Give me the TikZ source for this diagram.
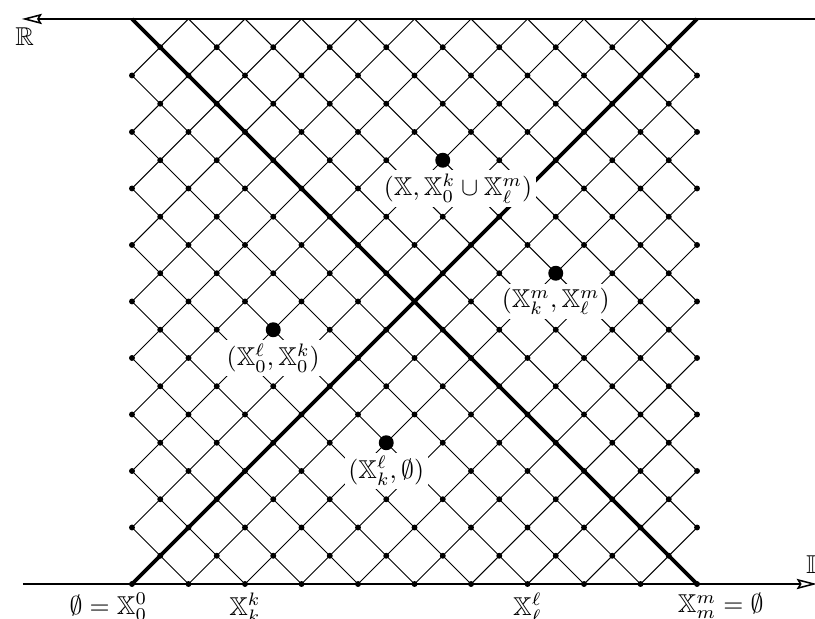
\documentclass[tikz,border=0pt]{standalone}
\usepackage{amssymb}
\usetikzlibrary{arrows.meta}

\begin{document}
\begin{tikzpicture}[x=0.77cm, y=0.77cm,
    axis/.style={semithick, -{Stealth[open, length=7.8pt, width=4pt, inset=1.2pt]}},
    region/.style={fill=white, inner sep=1.5pt},
    bigdot/.style={circle, fill, inner sep=0pt, minimum size=5.8pt}]
  \useasboundingbox (-2.336,-0.619) rectangle (12.088,10.336);
  % lattice of diagonals
  \begin{scope}
    \clip (0,0) rectangle (10,10);
    \foreach \n in {-10,...,10}{
      \draw (\n,0) -- ++(10,10);
      \draw (\n+10,0) -- ++(-10,10);
    }
  \end{scope}
  \draw[line width=1.4pt] (0,0) -- (10,10);
  \draw[line width=1.4pt] (0,10) -- (10,0);
  % lattice points
  \foreach \i in {0,...,10}
    \foreach \j in {0,...,9}
      \fill (\i,\j) circle (1.15pt);
  \foreach \i in {0,...,9}
    \foreach \j in {0,...,9}
      \fill (\i+.5,\j+.5) circle (1.15pt);
  % axes
  \coordinate (iStart) at (-1.93,0);
  \coordinate (iEnd) at (12.12,0);
  \coordinate (rStart) at (12.2,10);
  \coordinate (rEnd) at (-1.95,10);
  \draw[axis] (iStart) -- (iEnd);
  \draw[axis] (rStart) -- (rEnd);
  \node (R) at (-1.9,9.68) {$\mathbb{R}$};
  \node[anchor=west, inner sep=0pt] (I) at (11.92,0.34) {$\mathbb{I}$};
  % ticks on the bottom axis
  \node[below] (x0) at (0,0) {$\llap{$\emptyset={}$}\mathbb{X}^0_0$};
  \node[below] (xk) at (2,0) {$\mathbb{X}^k_k$};
  \node[below] (xl) at (7,0) {$\mathbb{X}^\ell_\ell$};
  \node[below] (xm) at (10,0) {$\mathbb{X}^m_m\rlap{${}=\emptyset$}$};
  % regions
  \node[bigdot] (pl) at (2.5,4.5) {};
  \node[region] (lpl) at (2.5,4) {$(\mathbb{X}^\ell_0,\mathbb{X}^k_0)$};
  \node[bigdot] (pt) at (5.5,7.5) {};
  \node[region] (lpt) at (5.77,7) {$(\mathbb{X},\mathbb{X}^k_0\cup\mathbb{X}^m_\ell)$};
  \node[bigdot] (pr) at (7.5,5.5) {};
  \node[region] (lpr) at (7.5,5) {$(\mathbb{X}^m_k,\mathbb{X}^m_\ell)$};
  \node[bigdot] (pb) at (4.5,2.5) {};
  \node[region] (lpb) at (4.5,2) {$(\mathbb{X}^\ell_k,\emptyset)$};
\end{tikzpicture}
\end{document}
